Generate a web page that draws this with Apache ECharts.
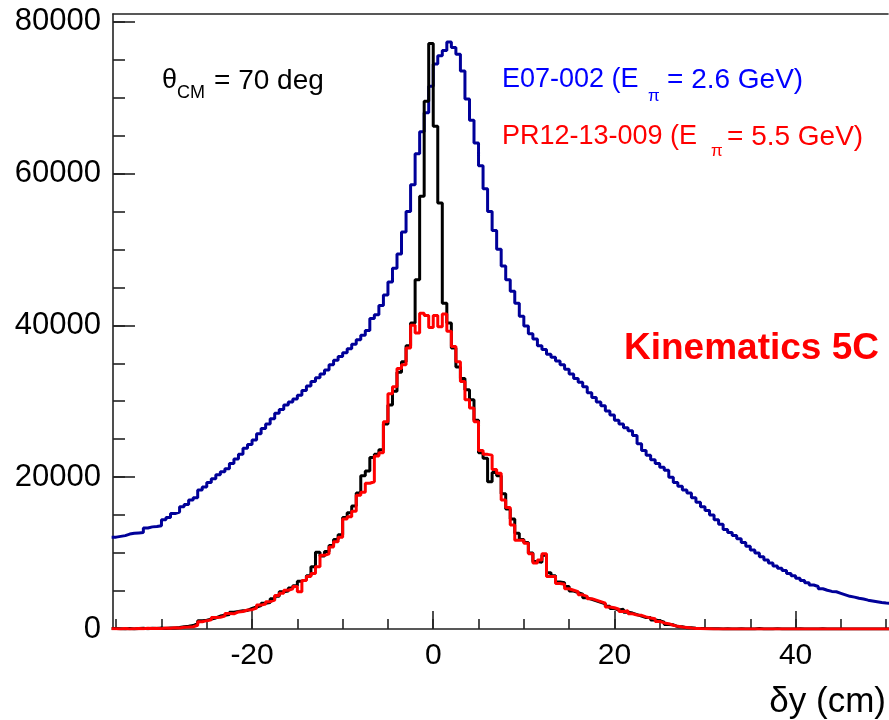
<!DOCTYPE html>
<html><head><meta charset="utf-8">
<script src="https://cdn.jsdelivr.net/npm/echarts@6/dist/echarts.min.js"></script>
<style>html,body{margin:0;padding:0;background:#fff}#c{width:889px;height:720px}</style>
</head><body><div id="c"></div>
<script>
// Histogram binning (bin left edges start at binStart, width binWidth)
const binStart = -35.5;
const binWidth = 0.5;

// E07-002 (E_pi = 2.6 GeV) - blue
const blueE07 = [
 12100,12200,12300,12500,12600,12650,12700,13300,13450,13500,
 13600,14400,14700,15200,15400,16100,16400,17000,17300,18300,
 18700,19300,19800,20300,20700,21100,21800,22400,23000,23800,
 24300,24900,25700,26400,27000,27700,28400,28900,29500,29900,
 30300,30800,31400,32000,32600,33100,33600,34100,34800,35400,
 35900,36400,36900,37500,38100,38700,39300,40900,41400,42600,
 44000,45700,47500,49400,52300,55000,58500,62600,65500,68000,
 71500,74400,75500,76200,77300,76600,75700,73500,69800,67000,
 64000,61000,58000,55000,52500,50000,47800,46000,44500,42900,
 41200,39900,38900,38200,37300,36800,36200,35800,35300,34800,
 34200,33600,33000,32500,31900,31100,30500,29900,29400,28700,
 28200,27500,27000,26500,26100,25500,24400,23500,22900,22300,
 21800,21300,20900,20000,19300,18800,18300,17900,17300,16700,
 16100,15600,15000,14400,13800,13100,12700,12300,11900,11400,
 10900,10400,10000,9500,9100,8700,8300,8000,7700,7300,
 7000,6700,6400,6100,5800,5600,5300,5100,4950,4900,
 4700,4500,4300,4200,4050,3950,3800,3700,3600,3500,
 3420,3380
];

// black histogram
const blackHist = [
 50,40,0,80,0,60,90,40,100,70,
 120,80,140,120,200,300,350,450,700,1100,
 1150,1300,1450,1700,1800,1900,2200,2300,2400,2450,
 2700,2900,3100,3400,3500,4000,4300,4900,5000,5400,
 5700,6300,6500,7000,8200,10100,9600,10200,11000,11800,
 12400,14700,15300,16200,17900,20200,20800,22600,23000,23600,
 27000,29500,31300,33800,35200,37300,40300,46000,57000,69500,
 77100,66200,56100,42900,40300,37000,34500,33000,31500,30200,
 27500,23200,22500,19400,20600,20200,17800,15800,14500,12600,
 11800,11400,10000,8900,8800,9700,7400,7000,6200,6100,
 5600,5000,4800,4600,4100,3900,3700,3500,3300,3000,
 2700,2500,2600,2200,2100,1900,1700,1500,1500,1200,
 1100,900,600,550,300,300,150,150,100,70,
 50,40,30,20,0,30,0,0,40,0,
 0,0,60,0,0,0,50,0,0,0,
 0,40,0,0,0,0,30,0,0,0,
 0,0,0,0,0,0,0,0,0,0,
 0,0
];

// PR12-13-009 (E_pi = 5.5 GeV) - red
const redPR12 = [
 30,0,60,0,40,80,30,90,60,100,
 50,120,90,150,130,220,250,300,500,950,
 1100,1200,1500,1550,1700,2050,2000,2250,2300,2500,
 2550,2750,3150,3300,3600,3800,4400,4700,5100,5300,
 5600,4900,6400,6900,7300,8200,9700,9900,10800,11500,
 12100,14500,14800,15500,17600,18000,19200,19400,22800,23200,
 27300,31000,31900,34300,34800,37000,40000,39000,41600,41300,
 39700,41300,39800,41500,39200,37200,35200,32600,30200,29100,
 27300,23500,23000,22900,21000,20500,17000,16000,13700,11700,
 11700,11300,9900,8700,9100,9900,6900,6900,6000,5900,
 5300,5100,4900,4500,4300,4000,3800,3600,3400,2900,
 2800,2600,2300,2400,2000,1850,1800,1600,1450,1350,
 1000,800,700,500,350,250,200,120,80,50,
 30,20,0,0,10,0,0,0,0,0,
 0,0,0,0,0,0,0,0,0,0,
 0,0,0,0,0,0,0,0,0,0,
 0,0,0,0,0,0,0,0,0,0,
 0,0
];

const xMajorTicks = [-20, 0, 20, 40];
const xMinorTicks = [-35,-30,-25,-20,-15,-10,-5,0,5,10,15,20,25,30,35,40,45,50];
const yMajorTicks = [0, 20000, 40000, 60000, 80000];
const yMinorTicks = [0,5000,10000,15000,20000,25000,30000,35000,40000,45000,50000,55000,60000,65000,70000,75000,80000];

const X_MIN = -35.35, X_MAX = 50.2, Y_MIN = 0, Y_MAX = 81000;
const FONT = "'Liberation Sans', Arial, Helvetica, sans-serif";
const AX = '#222';

function toSteps(vals) {
  const d = vals.map((v, i) => [binStart + i * binWidth, v]);
  d.push([binStart + vals.length * binWidth, vals[vals.length - 1]]);
  return d;
}

const chart = echarts.init(document.getElementById('c'), null, {renderer: 'canvas'});
const axLine = {show: true, onZero: false, lineStyle: {color: AX, width: 1.6}};
chart.setOption({
  animation: false,
  backgroundColor: '#fff',
  grid: {left: 113, top: 14, width: 775, height: 615, containLabel: false, outerBoundsMode: 'none'},
  xAxis: [
    {type: 'value', min: X_MIN, max: X_MAX, position: 'bottom',
     axisLine: axLine,
     axisTick: {show: true, inside: true, length: 18, customValues: xMajorTicks, lineStyle: {color: AX, width: 1.6}},
     axisLabel: {show: true, customValues: xMajorTicks, fontSize: 30, fontFamily: FONT, color: '#000', margin: 12,
                 formatter: v => String(v)},
     splitLine: {show: false}},
    {type: 'value', min: X_MIN, max: X_MAX, position: 'bottom',
     axisLine: {show: false, onZero: false},
     axisTick: {show: true, inside: true, length: 10, customValues: xMinorTicks, lineStyle: {color: AX, width: 1.6}},
     axisLabel: {show: false}, splitLine: {show: false}},
    {type: 'value', min: X_MIN, max: X_MAX, position: 'top',
     axisLine: axLine, axisTick: {show: false}, axisLabel: {show: false}, splitLine: {show: false}}
  ],
  yAxis: [
    {type: 'value', min: Y_MIN, max: Y_MAX, position: 'left',
     axisLine: axLine,
     axisTick: {show: true, inside: true, length: 22, customValues: yMajorTicks, lineStyle: {color: AX, width: 1.6}},
     axisLabel: {show: true, customValues: yMajorTicks, fontSize: 31, fontFamily: FONT, color: '#000', margin: 12,
                 formatter: v => String(v)},
     splitLine: {show: false}},
    {type: 'value', min: Y_MIN, max: Y_MAX, position: 'left',
     axisLine: {show: false, onZero: false},
     axisTick: {show: true, inside: true, length: 12, customValues: yMinorTicks, lineStyle: {color: AX, width: 1.6}},
     axisLabel: {show: false}, splitLine: {show: false}}
  ],
  series: [
    {name: 'E07-002', type: 'line', step: 'end', symbol: 'none', clip: true,
     data: toSteps(blueE07), lineStyle: {color: '#000099', width: 3}},
    {name: 'black', type: 'line', step: 'end', symbol: 'none', clip: true,
     data: toSteps(blackHist), lineStyle: {color: '#000000', width: 3}},
    {name: 'PR12-13-009', type: 'line', step: 'end', symbol: 'none', clip: true,
     data: toSteps(redPR12), lineStyle: {color: '#ff0000', width: 3}}
  ],
  graphic: [
    {type: 'text', x: 162, y: 81, style: {text: 'θ', fontSize: 27, fontFamily: FONT, fill: '#000', verticalAlign: 'middle'}},
    {type: 'text', x: 177, y: 93, style: {text: 'CM', fontSize: 18, fontFamily: FONT, fill: '#000', verticalAlign: 'middle'}},
    {type: 'text', x: 214, y: 81, style: {text: '= 70 deg', fontSize: 28, fontFamily: FONT, fill: '#000', verticalAlign: 'middle'}},

    {type: 'text', x: 502, y: 80, style: {text: 'E07-002 (E', fontSize: 27, fontFamily: FONT, fill: '#0000ff', verticalAlign: 'middle'}},
    {type: 'text', x: 648, y: 96, style: {text: 'π', fontSize: 17, fontFamily: FONT, fill: '#0000ff', verticalAlign: 'middle'}},
    {type: 'text', x: 667, y: 80, style: {text: '= 2.6 GeV)', fontSize: 28, fontFamily: FONT, fill: '#0000ff', verticalAlign: 'middle'}},

    {type: 'text', x: 502, y: 137, style: {text: 'PR12-13-009 (E', fontSize: 27, fontFamily: FONT, fill: '#ff0000', verticalAlign: 'middle'}},
    {type: 'text', x: 711, y: 151, style: {text: 'π', fontSize: 17, fontFamily: FONT, fill: '#ff0000', verticalAlign: 'middle'}},
    {type: 'text', x: 727, y: 137, style: {text: '= 5.5 GeV)', fontSize: 28, fontFamily: FONT, fill: '#ff0000', verticalAlign: 'middle'}},

    {type: 'text', x: 624, y: 349, style: {text: 'Kinematics 5C', fontSize: 37, fontWeight: 'bold', fontFamily: FONT, fill: '#ff0000', verticalAlign: 'middle'}},

    {type: 'text', x: 886, y: 702, style: {text: 'δy (cm)', fontSize: 35, fontFamily: FONT, fill: '#000', align: 'right', verticalAlign: 'middle'}}
  ]
});
</script>
</body></html>
